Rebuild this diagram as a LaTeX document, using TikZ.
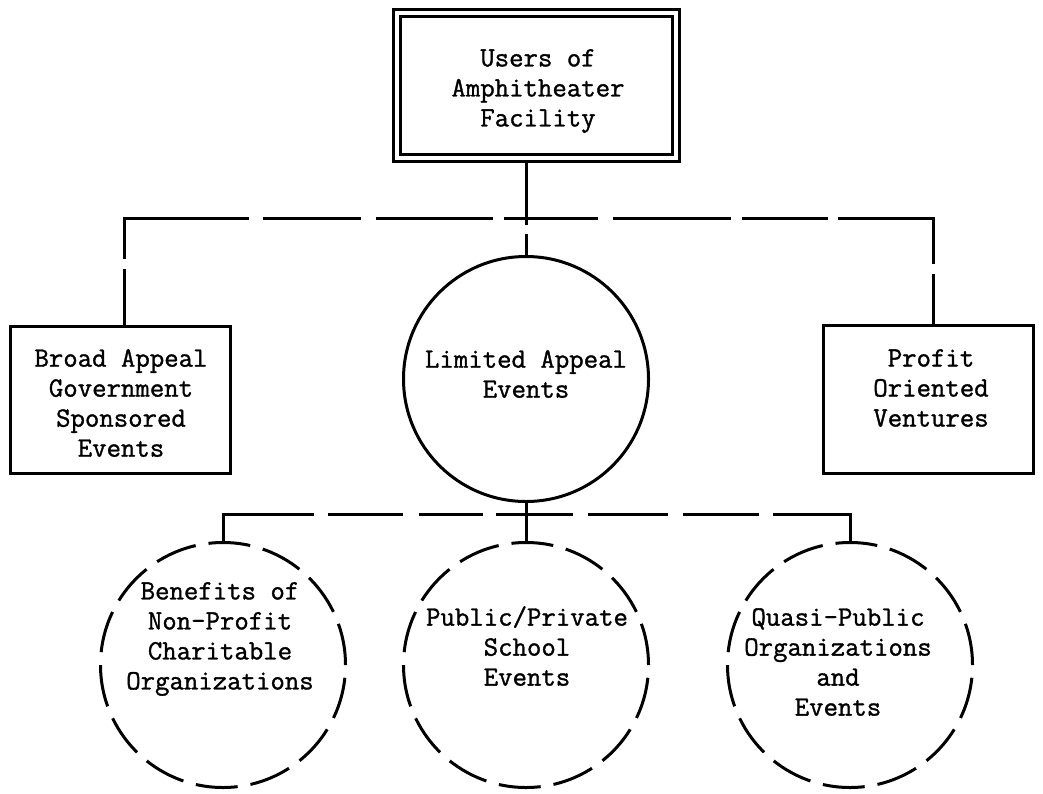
\documentclass[tikz,border=0pt]{standalone}
\usepackage{fontspec}
\newfontfamily\typew{Latin Modern Mono}[FakeBold=1.2]
\begin{document}
\begin{tikzpicture}[x=1pt,y=-1pt,line width=3pt,
  lbl/.style={font=\typew\fontsize{28}{30}\selectfont, align=center, inner sep=0pt},
  boxshape/.style={draw, rectangle, inner sep=0pt, outer sep=0pt},
  circshape/.style={draw, circle, inner sep=0pt, outer sep=0pt, minimum size=245pt},
  dashcirc/.style={circshape, dash pattern=on 42pt off 13pt}
]
\useasboundingbox (0,0) rectangle (1043,793);

% shapes
\node[boxshape, double, double distance=4pt, minimum width=279pt, minimum height=145pt] (users) at (536.5,85.5) {};
\node[boxshape, minimum width=220pt, minimum height=147pt] (broad) at (120.5,400) {};
\node[boxshape, minimum width=210pt, minimum height=148pt] (profit) at (928.5,399.5) {};
\node[circshape] (limited) at (526,379) {};
\node[dashcirc] (benefits) at (223,665) {};
\node[dashcirc] (school) at (526,665) {};
\node[dashcirc] (quasi) at (850,665) {};

% texts
\node[lbl] (tusers) at (538,91) {Users of\\Amphitheater\\Facility};
\node[lbl] (tbroad) at (121,403) {Broad Appeal\\Government\\Sponsored\\Events};
\node[lbl] (tprofit) at (931,388) {Profit\\Oriented\\Ventures};
\node[lbl] (tlimited) at (526,374) {Limited Appeal\\Events};
\node[lbl] (tbenefits) at (220,639) {Benefits of\\Non-Profit\\Charitable\\Organizations};
\node[lbl] (tschool) at (527,646) {Public/Private\\School\\Events};
\node[lbl] (tquasi) at (838,662) {Quasi-Public\\Organizations\\and\\Events};

% connector coordinates
\coordinate (tl) at (124,218);
\coordinate (tr) at (933,218);
\coordinate (bl) at (223,514);
\coordinate (br) at (850,514);

% connectors
\draw[dash pattern=on 62pt off 9pt on 200pt] ([yshift=-5pt]users.south -| limited.north) -- (limited.north);
\draw[dash pattern=on 58pt off 10pt on 165pt off 14pt on 98pt off 15pt on 117pt off 11pt on 94pt off 15pt on 118pt off 11pt on 86pt off 10pt on 141pt off 10pt on 200pt]
  (tl |- broad.north) -- (tl) -- (tr) -- (tr |- profit.north);
\draw[dash pattern=on 119.5pt off 14pt on 75pt off 16pt on 64pt off 13pt on 77pt off 15pt on 80pt off 15pt on 76pt off 14pt on 200pt]
  (benefits.north) -- (bl) -- (br) -- (quasi.north);
\draw (limited.south) -- (school.north);
\end{tikzpicture}
\end{document}
